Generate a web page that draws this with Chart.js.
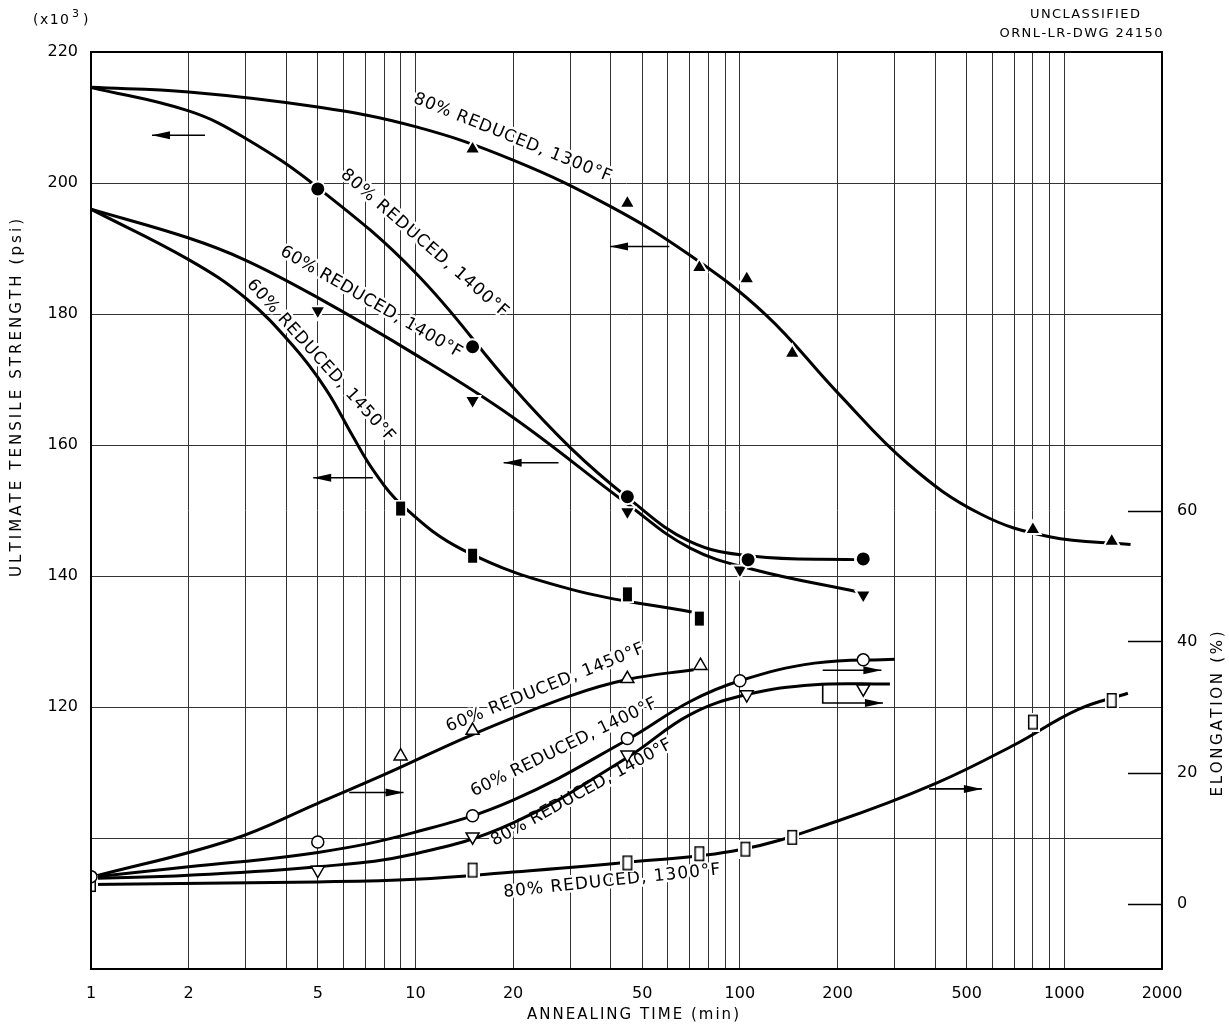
<!DOCTYPE html>
<html>
<head>
<meta charset="utf-8">
<script src="https://cdn.jsdelivr.net/npm/chart.js@4.4.1/dist/chart.umd.min.js"></script>
<style>
  html, body { margin: 0; padding: 0; background: #fff; }
</style>
</head>
<body>
<canvas id="c" width="1229" height="1026"></canvas>
<script>
// axes
const timeTicks = [1, 2, 5, 10, 20, 50, 100, 200, 500, 1000, 2000];
const timeGrid = [1, 2, 3, 4, 5, 6, 7, 8, 9, 10, 20, 30, 40, 50, 60, 70, 80, 90,
  100, 200, 300, 400, 500, 600, 700, 800, 900, 1000, 2000];
const strengthGrid = [100, 120, 140, 160, 180, 200, 220];
const elongTicks = [0, 20, 40, 60];

// ultimate tensile strength (x10^3 psi), measured points
const uts80_1300_t = [15, 45, 75, 105, 145, 800, 1400];
const uts80_1300 = [205.2, 196.9, 187.1, 185.4, 174.0, 147.1, 145.3];
const uts80_1400_t = [5, 15, 45, 106, 240];
const uts80_1400 = [199.1, 175.0, 152.1, 142.5, 142.6];
const uts60_1400_t = [5, 15, 45, 100, 240];
const uts60_1400 = [180.5, 166.8, 149.8, 140.9, 137.1];
const uts60_1450_t = [9, 15, 45, 75];
const uts60_1450 = [150.3, 143.1, 137.2, 133.5];

// elongation (%), measured points
const el60_1450_t = [9, 15, 45, 75.6];
const el60_1450 = [22.5, 26.4, 34.3, 36.3];
const el60_1400_t = [1, 5, 15, 45, 100, 240];
const el60_1400 = [4.1, 9.4, 13.4, 25.2, 34.0, 37.2];
const el80_1400_t = [5, 15, 45, 105, 240];
const el80_1400 = [5.1, 10.2, 22.7, 31.9, 32.8];
const el80_1300_t = [1, 15, 45, 75, 104, 145, 800, 1400];
const el80_1300 = [2.9, 5.1, 6.2, 7.6, 8.3, 10.1, 27.7, 31.0];

// faired curves as drawn, [time, value]
const uts80_1300_curve = [[1, 214.6], [2, 213.9], [5, 211.6], [10, 208.6], [20, 203.5], [40, 196.4],
  [70, 189.0], [120, 179.9], [200, 168.0], [330, 157.1], [550, 149.5], [900, 146.0], [1600, 144.8]];
const uts80_1400_curve = [[1, 214.6], [2, 211.0], [3, 206.8], [5, 199.3], [10, 186.3], [20, 168.8],
  [30, 159.6], [45, 152.0], [70, 145.3], [110, 143.0], [225, 142.5]];
const uts60_1400_curve = [[1, 196.0], [2, 191.6], [3, 188.2], [5, 182.5], [10, 173.8], [20, 164.2],
  [45, 151.0], [70, 144.3], [110, 141.0], [230, 137.6]];
const uts60_1450_curve = [[1, 196.0], [2, 188.3], [3, 182.4], [4.2, 175.1], [5.3, 168.5], [6.4, 161.4],
  [7.4, 156.2], [9, 151.0], [14, 144.0], [30, 138.0], [71, 134.5]];
const el60_1450_curve = [[1, 4.0], [2.7, 9.7], [5, 15.3], [8.2, 19.9], [15, 25.8], [30, 31.7],
  [45, 34.2], [72, 35.7]];
const el60_1400_curve = [[1, 4.0], [2, 5.6], [5, 7.8], [10, 10.9], [20, 15.8], [45, 25.0],
  [70, 30.8], [100, 34.0], [170, 36.7], [300, 37.3]];
const el80_1400_curve = [[1, 3.8], [2, 4.3], [5, 5.6], [10, 7.6], [20, 12.3], [45, 22.3],
  [70, 28.8], [105, 31.9], [170, 33.4], [290, 33.5]];
const el80_1300_curve = [[1, 2.9], [5, 3.3], [10, 3.7], [20, 4.8], [45, 6.3], [100, 8.2],
  [200, 12.6], [400, 18.3], [700, 24.2], [1100, 29.6], [1570, 32.1]];

// curve labels (time, strength) with angle and text length in px
const curveLabels = [
  { text: '80% REDUCED, 1300°F', t: 19.9, v: 206.9, angle: 22, len: 212 },
  { text: '80% REDUCED, 1400°F', t: 10.65, v: 190.8, angle: 41, len: 216 },
  { text: '60% REDUCED, 1400°F', t: 7.3, v: 181.8, angle: 30, len: 207 },
  { text: '60% REDUCED, 1450°F', t: 5.1, v: 172.9, angle: 48, len: 212 },
  { text: '60% REDUCED, 1450°F', t: 25.1, v: 122.9, angle: -22, len: 212 },
  { text: '60% REDUCED, 1400°F', t: 28.7, v: 113.8, angle: -26, len: 205 },
  { text: '80% REDUCED, 1400°F', t: 32.5, v: 106.9, angle: -29, len: 204 },
  { text: '80% REDUCED, 1300°F', t: 40.3, v: 93.4, angle: -6, len: 218 }
];
// axis pointers, arrowhead at the last point (time, strength)
const arrows = [
  [[2.246, 207.3], [1.542, 207.3]],
  [[60.6, 190.3], [39.8, 190.3]],
  [[7.39, 155.0], [4.84, 155.0]],
  [[27.6, 157.3], [18.7, 157.3]],
  [[6.25, 106.95], [9.19, 106.95]],
  [[180, 125.6], [273, 125.6]],
  [[180, 123.4], [180, 120.6], [276, 120.6]],
  [[383, 107.5], [557, 107.5]]
];

const FONT = '"DejaVu Sans", sans-serif';

function box(w, h, fill, stroke) {
  const c = document.createElement('canvas');
  c.width = w + 4; c.height = h + 4;
  const g = c.getContext('2d');
  g.fillStyle = '#fff';
  g.fillRect(0, 0, w + 4, h + 4);
  g.fillStyle = fill;
  g.fillRect(2, 2, w, h);
  if (stroke) {
    g.strokeStyle = stroke; g.lineWidth = 1.5;
    g.strokeRect(2.75, 2.75, w - 1.5, h - 1.5);
  }
  return c;
}
const filledBox = box(9, 14, '#000');
const openBox = box(10, 15, '#fff', '#000');

const pts = (ts, vs) => ts.map((t, i) => ({ x: t, y: vs[i] }));
const pairs = (c) => c.map(p => ({ x: p[0], y: p[1] }));

function curve(data, axis) {
  return { data: pairs(data), yAxisID: axis, showLine: true, borderColor: '#000', borderWidth: 3,
    pointRadius: 0, tension: 0.4, order: 2 };
}
function marks(ts, vs, axis, style) {
  return Object.assign({ data: pts(ts, vs), yAxisID: axis, showLine: false, order: 1 }, style);
}
const fillTri = { pointStyle: 'triangle', pointRadius: 9, backgroundColor: '#000', borderColor: '#fff', pointBorderWidth: 2 };
const fillTriDown = Object.assign({}, fillTri, { rotation: 180 });
const fillDot = { pointStyle: 'circle', pointRadius: 7.5, backgroundColor: '#000', borderColor: '#fff', pointBorderWidth: 2 };
const fillSq = { pointStyle: filledBox, pointRadius: 8 };
const openTri = { pointStyle: 'triangle', pointRadius: 7.5, backgroundColor: '#fff', borderColor: '#000', pointBorderWidth: 1.5 };
const openTriDown = Object.assign({}, openTri, { rotation: 180 });
const openDot = { pointStyle: 'circle', pointRadius: 6, backgroundColor: '#fff', borderColor: '#000', pointBorderWidth: 1.5 };
const openSq = { pointStyle: openBox, pointRadius: 8 };

const datasets = [
  marks(uts80_1300_t, uts80_1300, 'y', fillTri),
  marks(uts80_1400_t, uts80_1400, 'y', fillDot),
  marks(uts60_1400_t, uts60_1400, 'y', fillTriDown),
  marks(uts60_1450_t, uts60_1450, 'y', fillSq),
  marks(el60_1450_t, el60_1450, 'yR', openTri),
  marks(el60_1400_t, el60_1400, 'yR', openDot),
  marks(el80_1400_t, el80_1400, 'yR', openTriDown),
  marks(el80_1300_t, el80_1300, 'yR', openSq),
  curve(uts80_1300_curve, 'y'),
  curve(uts80_1400_curve, 'y'),
  curve(uts60_1400_curve, 'y'),
  curve(uts60_1450_curve, 'y'),
  curve(el60_1450_curve, 'yR'),
  curve(el60_1400_curve, 'yR'),
  curve(el80_1400_curve, 'yR'),
  curve(el80_1300_curve, 'yR')
];

function spaced(ctx, text, cx, cy, angle, len, size, knock) {
  ctx.save();
  ctx.font = size + 'px ' + FONT;
  ctx.translate(cx, cy);
  ctx.rotate(angle * Math.PI / 180);
  ctx.textBaseline = 'middle';
  ctx.textAlign = 'left';
  const chars = Array.from(text);
  const w = chars.map(ch => ctx.measureText(ch).width);
  const natural = w.reduce((a, b) => a + b, 0);
  const gap = chars.length > 1 ? (len - natural) / (chars.length - 1) : 0;
  const xs = [];
  let x = -len / 2;
  w.forEach(wi => { xs.push(x); x += wi + gap; });
  if (knock) {
    ctx.strokeStyle = '#fff'; ctx.lineWidth = 5; ctx.lineJoin = 'round';
    chars.forEach((ch, i) => ctx.strokeText(ch, xs[i], 0));
  }
  ctx.fillStyle = '#000';
  chars.forEach((ch, i) => ctx.fillText(ch, xs[i], 0));
  ctx.restore();
}

const decor = {
  id: 'decor',
  beforeDatasetsDraw(chart) {
    const { ctx, scales: { x, y } } = chart;
    curveLabels.forEach(l => {
      spaced(ctx, l.text, x.getPixelForValue(l.t), y.getPixelForValue(l.v), l.angle, l.len, 17, true);
    });
    ctx.save();
    ctx.strokeStyle = '#000'; ctx.fillStyle = '#000'; ctx.lineWidth = 1.6;
    arrows.forEach(a => {
      const p = a.map(q => [x.getPixelForValue(q[0]), y.getPixelForValue(q[1])]);
      ctx.beginPath();
      p.forEach((q, i) => i ? ctx.lineTo(q[0], q[1]) : ctx.moveTo(q[0], q[1]));
      ctx.stroke();
      const [x1, y1] = p[p.length - 2];
      const [x2, y2] = p[p.length - 1];
      const ang = Math.atan2(y2 - y1, x2 - x1);
      ctx.save();
      ctx.translate(x2, y2); ctx.rotate(ang);
      ctx.beginPath();
      ctx.moveTo(0, 0); ctx.lineTo(-18, -4); ctx.lineTo(-18, 4); ctx.closePath();
      ctx.fill();
      ctx.restore();
    });
    ctx.restore();
  },
  afterDraw(chart) {
    const { ctx, chartArea: a, scales: { yR } } = chart;
    ctx.save();
    ctx.strokeStyle = '#000'; ctx.lineWidth = 2;
    ctx.strokeRect(a.left, a.top, a.right - a.left, a.bottom - a.top);
    ctx.lineWidth = 1.5;
    elongTicks.forEach(v => {
      const py = Math.round(yR.getPixelForValue(v)) + 0.5;
      ctx.beginPath(); ctx.moveTo(a.right - 34, py); ctx.lineTo(a.right, py); ctx.stroke();
    });
    ctx.restore();
    spaced(ctx, 'ULTIMATE TENSILE STRENGTH (psi)', 17, 398, -90, 358, 15, false);
    spaced(ctx, 'ELONGATION (%)', 1218, 714, -90, 165, 15, false);
    spaced(ctx, 'ANNEALING TIME (min)', 633, 1015, 0, 212, 15, false);
    spaced(ctx, 'UNCLASSIFIED', 1085, 15, 0, 110, 13, false);
    spaced(ctx, 'ORNL-LR-DWG 24150', 1081, 34, 0, 163, 13, false);
    // (x10^3) unit note
    spaced(ctx, '(x10', 51, 20, 0, 36, 14, false);
    ctx.save();
    ctx.fillStyle = '#000';
    ctx.textBaseline = 'middle';
    ctx.font = '11px ' + FONT;
    ctx.fillText('3', 72, 14);
    ctx.font = '14px ' + FONT;
    ctx.fillText(')', 83, 20);
    ctx.restore();
  }
};

const tickFont = { family: FONT, size: 16 };

new Chart(document.getElementById('c').getContext('2d'), {
  type: 'scatter',
  data: { datasets: datasets },
  options: {
    responsive: false,
    animation: false,
    layout: { padding: { top: 52, left: 0, right: 0, bottom: 0 } },
    plugins: { legend: { display: false }, tooltip: { enabled: false } },
    scales: {
      x: {
        type: 'logarithmic', min: 1, max: 2000,
        afterBuildTicks: s => { s.ticks = timeGrid.map(v => ({ value: v })); },
        afterFit: s => { s.height = 57; },
        ticks: { autoSkip: false, maxRotation: 0, padding: 15, color: '#000', font: tickFont,
          callback: v => timeTicks.includes(v) ? String(v) : '' },
        grid: { color: '#333', lineWidth: 1, drawTicks: false },
        border: { display: false }
      },
      y: {
        position: 'left', min: 80, max: 220,
        afterBuildTicks: s => { s.ticks = strengthGrid.map(v => ({ value: v })); },
        afterFit: s => { s.width = 91; },
        ticks: { padding: 13, color: '#000', font: tickFont,
          callback: v => v >= 120 ? String(v) : '' },
        grid: { color: '#333', lineWidth: 1, drawTicks: false },
        border: { display: false }
      },
      yR: {
        position: 'right', min: -10, max: 130,
        afterBuildTicks: s => { s.ticks = elongTicks.map(v => ({ value: v })); },
        afterFit: s => { s.width = 67; },
        ticks: { padding: 15, color: '#000', font: tickFont, callback: v => String(v) },
        grid: { drawOnChartArea: false, drawTicks: false },
        border: { display: false }
      }
    }
  },
  plugins: [decor]
});
</script>
</body>
</html>
